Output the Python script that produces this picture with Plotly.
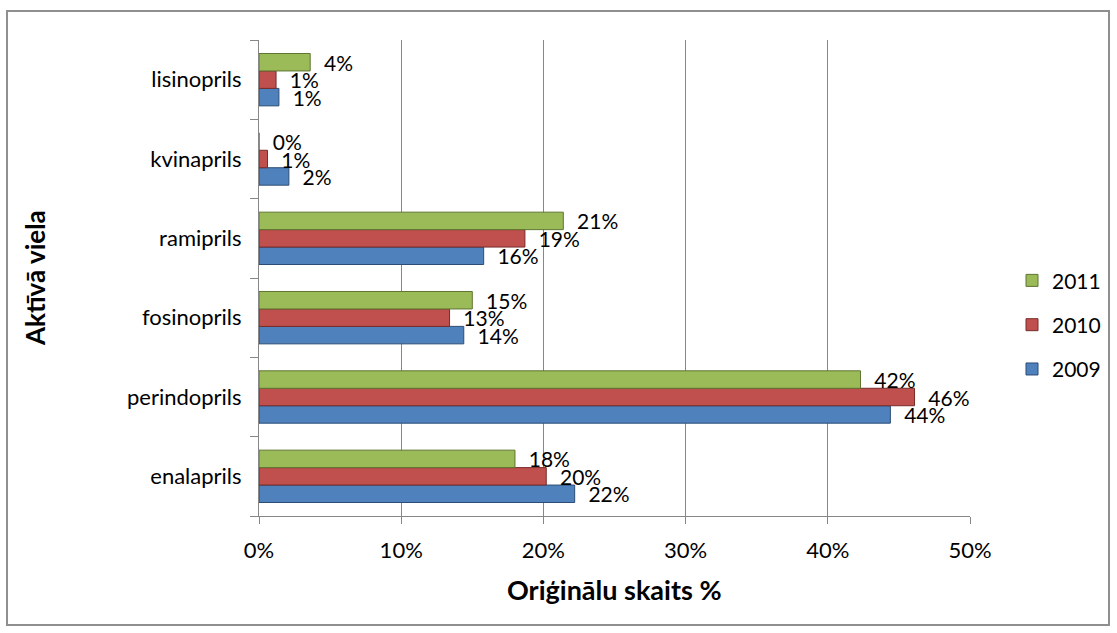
import plotly.graph_objects as go

# Active substances, bottom to top
categories = ["enalaprils", "perindoprils", "fosinoprils", "ramiprils", "kvinaprils", "lisinoprils"]

# Share of originals per year (fraction)
values_2009 = [0.222, 0.444, 0.144, 0.158, 0.021, 0.014]
values_2010 = [0.202, 0.461, 0.134, 0.187, 0.006, 0.012]
values_2011 = [0.180, 0.423, 0.150, 0.214, 0.0, 0.036]

x_ticks = [0, 0.1, 0.2, 0.3, 0.4, 0.5]

# (name, values, fill, edge, legend rank) - newest year listed first in the legend
series = [
    ("2009", values_2009, "#4F81BD", "#2C4D75", 3),
    ("2010", values_2010, "#C0504D", "#772C2A", 2),
    ("2011", values_2011, "#9BBB59", "#5F7530", 1),
]

FONT = "Lato, Calibri, Carlito, sans-serif"
PAD = "\u00a0\u00a0"  # gap between bar end and its value label

fig = go.Figure()
for name, vals, color, edge, rank in series:
    fig.add_trace(go.Bar(
        y=categories,
        x=vals,
        name=name,
        orientation="h",
        legendgroup=name,
        legendrank=rank,
        marker=dict(color=color, line=dict(color=edge, width=1)),
        texttemplate=PAD + "%{x:.0%}",
        textposition="outside",
        constraintext="none",
        textfont=dict(family=FONT, size=21, color="#000000"),
        cliponaxis=False,
    ))

fig.update_layout(
    width=1117,
    height=633,
    margin=dict(l=259, r=147, t=40, b=117, autoexpand=False),
    paper_bgcolor="#FFFFFF",
    plot_bgcolor="#FFFFFF",
    barmode="group",
    bargap=0.34,
    bargroupgap=0,
    font=dict(family=FONT, size=21, color="#000000"),
    showlegend=True,
    legend=dict(
        xref="container", yref="container",
        x=0.906, xanchor="left",
        y=0.487, yanchor="middle",
        traceorder="grouped",
        tracegroupgap=14,
        font=dict(family=FONT, size=21, color="#000000"),
        itemwidth=30,
        bgcolor="rgba(0,0,0,0)",
    ),
    xaxis=dict(
        range=[0, 0.5],
        tickvals=x_ticks,
        tickformat=".0%",
        showgrid=True,
        gridcolor="#878787",
        gridwidth=1,
        showline=True,
        linecolor="#878787",
        linewidth=1,
        ticks="outside",
        ticklen=7,
        tickcolor="#878787",
        zeroline=False,
        tickfont=dict(family=FONT, size=22),
        ticklabelstandoff=8,
    ),
    yaxis=dict(
        categoryorder="array",
        categoryarray=categories,
        showgrid=False,
        showline=True,
        linecolor="#878787",
        linewidth=1,
        ticks="outside",
        tickson="boundaries",
        ticklen=8,
        tickcolor="#878787",
        tickfont=dict(family=FONT, size=22),
        ticklabelstandoff=12,
    ),
    shapes=[
        dict(type="rect", xref="paper", yref="paper",
             x0=-0.3544, x1=1.1955, y0=-0.229, y1=1.061,
             line=dict(color="#8F8F8F", width=2), fillcolor="rgba(0,0,0,0)",
             layer="below"),
    ],
    annotations=[
        dict(text="<b>Oriģinālu skaits %</b>", xref="paper", yref="paper",
             x=0.5, y=-0.155, xanchor="center", yanchor="middle",
             showarrow=False, font=dict(family=FONT, size=27)),
        dict(text="<b>Aktīvā viela</b>", xref="paper", yref="paper",
             x=-0.315, y=0.5, xanchor="center", yanchor="middle",
             textangle=-90, showarrow=False, font=dict(family=FONT, size=26)),
    ],
)

fig.write_html("out.html")
